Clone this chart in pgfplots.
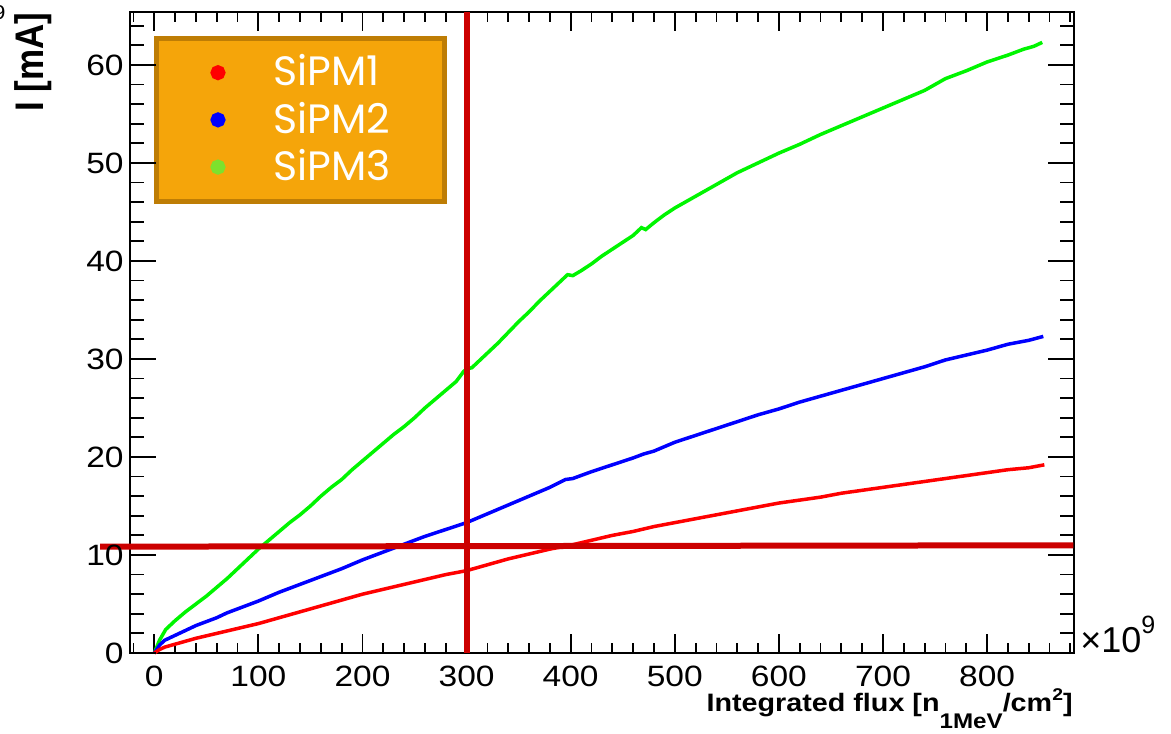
\documentclass[border=0pt]{standalone}
\usepackage{fontspec}
\setmainfont{Liberation Sans}
\newfontfamily\rootfont[FakeStretch=1.14]{Liberation Sans}
\newfontfamily\legfont{Poppins}
\usepackage{pgfplots}
\pgfplotsset{compat=1.18}

\definecolor{rootred}{RGB}{204,0,0}
\definecolor{curvered}{RGB}{255,0,0}
\definecolor{curveblue}{RGB}{0,0,255}
\definecolor{curvegreen}{RGB}{0,245,0}
\definecolor{legorange}{RGB}{245,165,10}
\definecolor{legborder}{RGB}{190,125,5}
\definecolor{leggreen}{RGB}{125,225,45}

\pgfplotsset{
  rootframe/.style={
    scale only axis, width=472pt, height=320.5pt,
    xmin=-23.34, xmax=883.5, ymin=0, ymax=65.4,
    axis line style={line width=1pt},
    tick style={line width=0.9pt, black},
    tick align=inside,
    scaled ticks=false,
    /pgf/number format/assume math mode=true,
    ticklabel style={font=\rootfont\fontsize{14.7}{14.7}\selectfont},
  },
  dotlegend/.style={legend image code/.code={\fill (0pt,0pt) circle (2.5pt);}},
}

\begin{document}
\begin{tikzpicture}
% data and x ticks
\begin{axis}[rootframe,
  clip=false,
  xtick={0,100,...,800},
  minor xtick={-20,0,...,880},
  major tick length=9.5pt, minor tick length=5pt,
  ytick=\empty,
  xticklabel style={anchor=base, inner sep=0pt, yshift=-17pt},
  legend style={at={(0.0254,0.9626)}, anchor=north west,
    fill=legorange, draw=legborder, line width=2.5pt,
    inner xsep=27pt, inner ysep=5.3pt, column sep=24pt,
    font=\legfont\fontsize{20.5}{20.5}\selectfont,
    nodes={inner sep=0pt, text height=18.45pt, text depth=5.15pt, text=white},
    cells={anchor=west}},
]
\addlegendimage{dotlegend, curvered}
\addlegendentry{SiPM1}
\addlegendimage{dotlegend, curveblue}
\addlegendentry{SiPM2}
\addlegendimage{dotlegend, leggreen}
\addlegendentry{SiPM3}

% SiPM3
\addplot[curvegreen, line width=1.75pt, forget plot] coordinates {
(0,0) (5,1.3) (11,2.4) (20,3.3) (30,4.2) (40,5.0) (50,5.8) (60,6.7) (70,7.6)
(80,8.6) (90,9.6) (100,10.6) (110,11.5) (120,12.4) (130,13.3) (140,14.1)
(150,15.0) (160,16.0) (170,16.9) (180,17.7) (190,18.7) (200,19.6) (210,20.5)
(220,21.4) (230,22.3) (240,23.1) (250,24.0) (260,25.0) (270,25.9) (280,26.8)
(290,27.7) (297,28.7) (300,29.0) (305,29.1) (310,29.6) (320,30.6) (330,31.6)
(340,32.7) (350,33.8) (360,34.8) (370,35.9) (380,36.9) (390,37.9) (397,38.6)
(402,38.5) (410,39.0) (420,39.7) (430,40.5) (440,41.2) (450,41.9) (460,42.6)
(468,43.4) (472,43.2) (480,43.9) (490,44.7) (500,45.4) (520,46.6) (540,47.8)
(560,49.0) (580,50.0) (600,51.0) (620,51.9) (640,52.9) (660,53.8) (680,54.7)
(700,55.6) (720,56.5) (740,57.4) (760,58.6) (780,59.4) (800,60.3) (820,61.0)
(835,61.6) (845,61.9) (853,62.3)};

% SiPM2
\addplot[curveblue, line width=1.75pt, forget plot] coordinates {
(0,0) (5,0.8) (10,1.3) (20,1.8) (30,2.3) (40,2.8) (50,3.2) (60,3.6) (70,4.1)
(80,4.5) (90,4.9) (100,5.3) (120,6.2) (140,7.0) (160,7.8) (180,8.6) (200,9.5)
(220,10.3) (240,11.1) (260,11.9) (280,12.6) (300,13.3) (320,14.2) (340,15.1)
(360,16.0) (380,16.9) (395,17.7) (402,17.8) (420,18.5) (440,19.2) (460,19.9)
(470,20.3) (480,20.6) (500,21.5) (520,22.2) (540,22.9) (560,23.6) (580,24.3)
(600,24.9) (620,25.6) (640,26.2) (660,26.8) (680,27.4) (700,28.0) (720,28.6)
(740,29.2) (760,29.9) (780,30.4) (800,30.9) (820,31.5) (840,31.9) (854,32.3)};

% SiPM1
\addplot[curvered, line width=1.75pt, forget plot] coordinates {
(0,0) (5,0.35) (10,0.6) (20,0.9) (40,1.5) (60,2.0) (80,2.5) (100,3.0)
(120,3.6) (140,4.2) (160,4.8) (180,5.4) (200,6.0) (220,6.5) (240,7.0)
(260,7.5) (280,8.0) (300,8.4) (320,9.0) (340,9.6) (360,10.1) (380,10.6)
(400,11.0) (420,11.5) (440,12.0) (460,12.4) (480,12.9) (500,13.3) (520,13.7)
(540,14.1) (560,14.5) (580,14.9) (600,15.3) (620,15.6) (640,15.9) (660,16.3)
(680,16.6) (700,16.9) (720,17.2) (740,17.5) (760,17.8) (780,18.1) (800,18.4)
(820,18.7) (840,18.9) (855,19.2)};

% reference lines
\addplot[rootred, line width=3pt, forget plot] coordinates {(300,0) (300,65.4)};
\addplot[rootred, line width=3pt, forget plot] coordinates {(-52,10.85) (883,10.99)};

% axis titles
\node[anchor=base east, inner sep=0pt, font=\rootfont\bfseries\fontsize{12.6}{12.6}\selectfont]
  at ([xshift=-0.5pt, yshift=-29.5pt]rel axis cs:1,0)
  {Integrated flux [n\raisebox{-8.5pt}{\fontsize{10.6}{10.6}\selectfont 1MeV}/cm\raisebox{5.5pt}{\fontsize{8.5}{8.5}\selectfont 2}]};
\node[anchor=base west, inner sep=0pt, font=\fontsize{18}{18}\selectfont]
  at ([xshift=3pt, yshift=0pt]rel axis cs:1,0)
  {×10\raisebox{9.5pt}{\fontsize{12.5}{12.5}\selectfont 9}};
\node[xscale=1.14, rotate=90, anchor=base east, inner sep=0pt, font=\bfseries\fontsize{17.5}{17.5}\selectfont]
  at ([xshift=-43pt, yshift=0pt]rel axis cs:0,1) {I [mA]};
\node[anchor=south east, inner sep=0pt, font=\rootfont\fontsize{10}{10}\selectfont]
  at ([xshift=-62pt, yshift=-4pt]rel axis cs:0,1) {9};
\end{axis}

% y ticks
\begin{axis}[rootframe,
  axis line style={draw=none},
  xtick=\empty,
  ytick={0,10,...,60},
  minor ytick={0,2,...,64},
  major tick length=13pt, minor tick length=7pt,
  yticklabel style={anchor=east, inner sep=0pt, xshift=-3pt},
]
\coordinate (bl) at (rel axis cs:0,0);
\coordinate (tr) at (rel axis cs:1,1);
\end{axis}
\pgfresetboundingbox
\path ([shift={(-65pt,-40.5pt)}]bl) rectangle ([shift={(48.5pt,6pt)}]tr);
\end{tikzpicture}
\end{document}
